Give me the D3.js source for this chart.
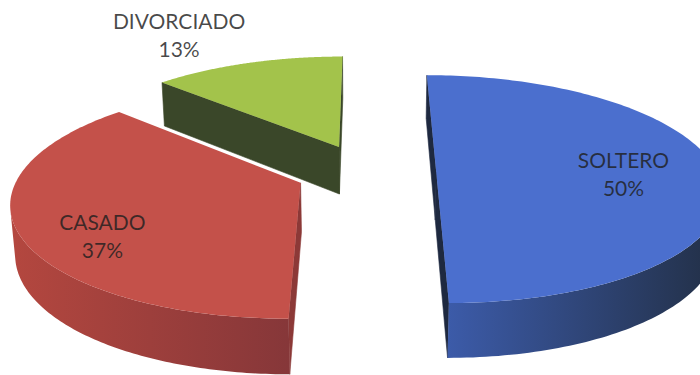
<!DOCTYPE html>
<html>
<head>
<meta charset="utf-8">
<script src="https://cdn.jsdelivr.net/npm/d3@7"></script>
<style>
  html, body { margin: 0; padding: 0; background: #ffffff; }
  svg { display: block; }
</style>
</head>
<body>
<svg id="chart" width="700" height="375"></svg>
<script>
// Estado civil: share of each category (percent)
const categories = ["SOLTERO", "CASADO", "DIVORCIADO"];
const values = [50, 37, 13];

// Colours per category: top face, rim gradient (left -> right), radial wall
const palette = {
  SOLTERO:    { top: "#4b6fce", rim: ["#3c5ba9", "#222f45"], wall: "#1e2940" },
  CASADO:     { top: "#c4514a", rim: ["#b4473f", "#863739"], wall: "#8c3937" },
  DIVORCIADO: { top: "#a3c34b", rim: ["#4a5a30", "#333f24"], wall: "#3a4729" }
};

// 3D view of the exploded pie (unit radius disc, perspective camera)
const view = {
  cx: 366, cy: 220,      // screen position of the pie axis
  scale: 277,            // pixels per unit radius at the reference depth
  tilt: 25 * Math.PI / 180,
  dist: 6,               // camera distance (in radii)
  height: 0.19,          // slab thickness (in radii)
  explode: 0.25          // explosion of every slice (in radii)
};
const sinT = Math.sin(view.tilt), cosT = Math.cos(view.tilt);

// world (X right, Y away from viewer, Z up) -> screen
function project(X, Y, Z) {
  const depth = 1 + (Y * cosT - Z * sinT) / view.dist;
  return [view.cx + view.scale * X / depth,
          view.cy - view.scale * (Y * sinT + Z * cosT) / depth];
}
// camera position in world units
const cam = [0, -view.dist * cosT, view.dist * sinT];

const data = categories.map((c, i) => ({ name: c, value: values[i] }));
const total = d3.sum(values);
const pct = d3.format(".0%");

const pie = d3.pie().sort(null).value(d => d.value);
const arcs = pie(data).map(a => {
  const mid = (a.startAngle + a.endAngle) / 2;
  return Object.assign(a, {
    mid,
    ex: view.explode * Math.sin(mid),
    ey: view.explode * Math.cos(mid)
  });
});

const svg = d3.select("#chart");
const defs = svg.append("defs");
const line = d3.line();
const H = view.height;

function rimPoint(a, t, z) {
  return project(a.ex + Math.sin(t), a.ey + Math.cos(t), z);
}

// farthest slice first
const ordered = arcs.slice().sort((p, q) => q.ey - p.ey);

ordered.forEach((a, k) => {
  const col = palette[a.data.name];
  const g = svg.append("g").attr("class", "slice");
  const N = 160;
  const ts = d3.range(N + 1).map(i => a.startAngle + (a.endAngle - a.startAngle) * i / N);

  // radial walls
  const walls = [
    { t: a.startAngle, n: [-Math.cos(a.startAngle), Math.sin(a.startAngle)] },
    { t: a.endAngle,   n: [ Math.cos(a.endAngle), -Math.sin(a.endAngle)] }
  ];
  walls.forEach(w => {
    const facing = (cam[0] - a.ex) * w.n[0] + (cam[1] - a.ey) * w.n[1];
    if (facing <= 0) return;
    const pts = [
      project(a.ex, a.ey, H), rimPoint(a, w.t, H),
      rimPoint(a, w.t, 0), project(a.ex, a.ey, 0)
    ];
    g.append("path").attr("d", line(pts) + "Z")
      .attr("fill", col.wall).attr("stroke", col.wall).attr("stroke-width", 0.6);
  });

  // outer rim, only the part turned toward the camera
  const vis = ts.filter(t => {
    const P = [a.ex + Math.sin(t), a.ey + Math.cos(t), 0];
    return (cam[0] - P[0]) * Math.sin(t) + (cam[1] - P[1]) * Math.cos(t) > 0;
  });
  if (vis.length > 1) {
    const gid = "rim" + k;
    const grad = defs.append("linearGradient").attr("id", gid)
      .attr("x1", 0).attr("x2", 1).attr("y1", 0).attr("y2", 0);
    grad.append("stop").attr("offset", 0).attr("stop-color", col.rim[0]);
    grad.append("stop").attr("offset", 1).attr("stop-color", col.rim[1]);
    const pts = vis.map(t => rimPoint(a, t, H))
      .concat(vis.slice().reverse().map(t => rimPoint(a, t, 0)));
    g.append("path").attr("d", line(pts) + "Z")
      .attr("fill", `url(#${gid})`);
  }

  // top face
  const topPts = [project(a.ex, a.ey, H)].concat(ts.map(t => rimPoint(a, t, H)));
  g.append("path").attr("d", line(topPts) + "Z").attr("fill", col.top);
});

// data labels: category name and share
const labelLayout = {
  SOLTERO:    { r: 0.66, dx: 2,   dy: 2 },
  CASADO:     { r: 0.72, dx: 2,   dy: 19 },
  DIVORCIADO: { r: 1.30, dx: -45, dy: -7 }
};
arcs.forEach(a => {
  const L = labelLayout[a.data.name];
  const p = project(a.ex + L.r * Math.sin(a.mid), a.ey + L.r * Math.cos(a.mid), H);
  const x = p[0] + L.dx, y = p[1] + L.dy;
  const t = svg.append("text")
    .attr("text-anchor", "middle")
    .attr("font-family", "Lato, 'Open Sans', sans-serif")
    .attr("font-size", 21)
    .attr("fill", "#1f1f1f")
    .attr("fill-opacity", 0.82);
  t.append("tspan").attr("x", x).attr("y", y - 6).text(a.data.name);
  t.append("tspan").attr("x", x).attr("y", y + 22).text(pct(a.data.value / total));
});
</script>
</body>
</html>
